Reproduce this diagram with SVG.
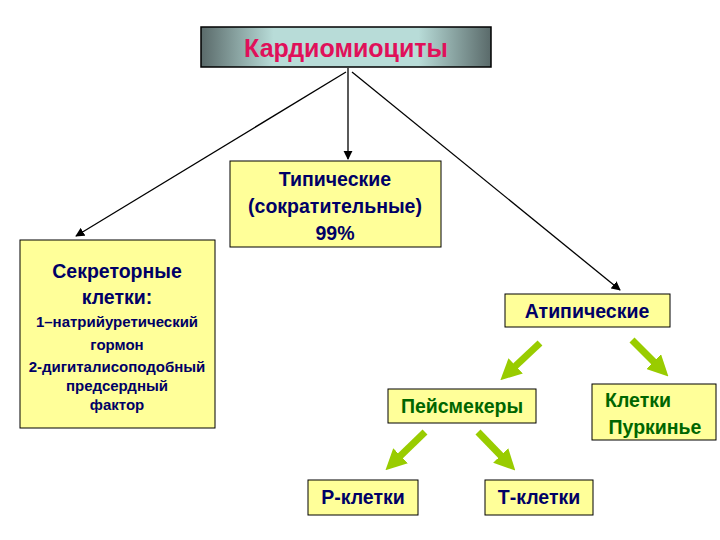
<svg xmlns="http://www.w3.org/2000/svg" width="720" height="540" viewBox="0 0 720 540">
<defs>
<linearGradient id="g" x1="0" y1="0" x2="1" y2="0"><stop offset="0" stop-color="#5a6a6a"/><stop offset="0.25" stop-color="#b8dcd8"/><stop offset="0.75" stop-color="#b8dcd8"/><stop offset="1" stop-color="#5a6a6a"/></linearGradient>
<marker id="ab" viewBox="0 0 10 10" refX="9" refY="5" markerWidth="7" markerHeight="7" orient="auto"><path d="M0,0L10,5L0,10z" fill="#000"/></marker>
<marker id="ag" viewBox="0 0 10 10" refX="5" refY="5" markerWidth="3" markerHeight="3" orient="auto"><path d="M0,0L10,5L0,10z" fill="#99cc00"/></marker>
</defs>
<style>
.y{fill:#ffff99;stroke:#000;stroke-width:1}
.t{font-family:"Liberation Sans",Arial,sans-serif;font-weight:bold;text-anchor:middle}
.b{fill:#000066}.gr{fill:#006600}
.k{stroke:#000;stroke-width:1.3;fill:none;marker-end:url(#ab)}
.gl{stroke:#99cc00;stroke-width:7;fill:none;marker-end:url(#ag)}
</style>
<rect width="720" height="540" fill="#fff"/>
<g id="connectors">
<line class="k" x1="348" y1="68" x2="348" y2="159"/>
<line class="k" x1="346" y1="72" x2="76" y2="236"/>
<line class="k" x1="352" y1="72" x2="620" y2="290"/>
<line class="gl" x1="540" y1="343" x2="508" y2="373"/>
<line class="gl" x1="632" y1="340" x2="661" y2="369"/>
<line class="gl" x1="425" y1="432" x2="393" y2="463"/>
<line class="gl" x1="478" y1="432" x2="508" y2="463"/>
</g>
<g id="n-top"><rect x="201" y="27" width="290" height="40" fill="url(#g)" stroke="#000" stroke-width="1.5"/><text class="t" x="346" y="57" font-size="25" fill="#e0105a">Кардиомиоциты</text></g>
<g id="n-typ"><rect class="y" x="230" y="161" width="211" height="86"/><text class="t b" font-size="19.5"><tspan x="335" y="186">Типические</tspan><tspan x="335" y="213">(сократительные)</tspan><tspan x="335" y="240">99%</tspan></text></g>
<g id="n-sec"><rect class="y" x="20" y="240" width="195" height="188"/><text class="t b" font-size="19.5"><tspan x="117" y="278">Секреторные</tspan><tspan x="117" y="304">клетки:</tspan></text><text class="t b" font-size="15"><tspan x="117" y="327">1–натрийуретический</tspan><tspan x="117" y="350">гормон</tspan><tspan x="117" y="372">2-дигиталисоподобный</tspan><tspan x="117" y="391">предсердный</tspan><tspan x="117" y="410">фактор</tspan></text></g>
<g id="n-atyp"><rect class="y" x="505" y="294" width="165" height="33"/><text class="t b" font-size="19.5" x="587" y="318">Атипические</text></g>
<g id="n-pace"><rect class="y" x="388" y="389" width="148" height="34"/><text class="t gr" font-size="19.5" x="462" y="413">Пейсмекеры</text></g>
<g id="n-purk"><rect class="y" x="592" y="384" width="124" height="56"/><text class="t gr" font-size="19.5"><tspan x="638" y="407">Клетки</tspan><tspan x="655" y="434">Пуркинье</tspan></text></g>
<g id="n-p"><rect class="y" x="308" y="480" width="110" height="35"/><text class="t b" font-size="19.5" x="363" y="504">Р-клетки</text></g>
<g id="n-tc"><rect class="y" x="485" y="480" width="108" height="35"/><text class="t b" font-size="19.5" x="539" y="504">Т-клетки</text></g>
</svg>
